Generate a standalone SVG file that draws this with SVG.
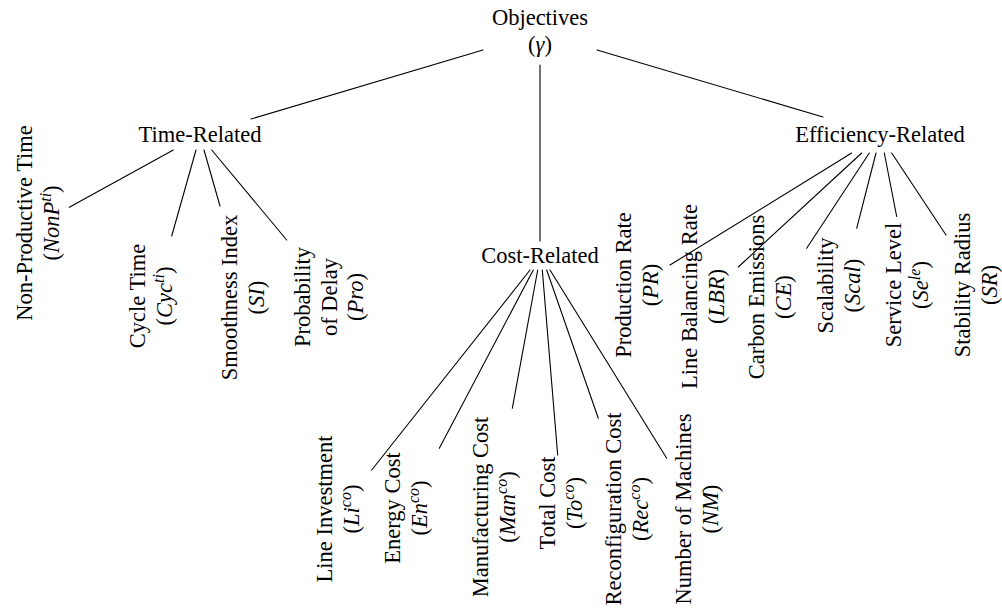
<svg xmlns="http://www.w3.org/2000/svg" width="1002" height="609" viewBox="0 0 1002 609">
<style>
text{font-family:"Liberation Serif","Times New Roman",serif;font-size:22.5px;fill:#000;text-anchor:middle}
.m{font-style:italic}
.s{font-size:16px;font-style:italic}
#connectors line{stroke:#000;stroke-width:1.1;stroke-linecap:round}
</style>
<rect width="1002" height="609" fill="#fff"/>
<g id="connectors">
<line x1="483" y1="50" x2="251" y2="119"/>
<line x1="540" y1="65" x2="540" y2="241"/>
<line x1="597" y1="50" x2="823" y2="117"/>
<line x1="173.3" y1="150" x2="69.3" y2="207.3"/>
<line x1="196" y1="150" x2="171.7" y2="236"/>
<line x1="204" y1="150" x2="220" y2="206"/>
<line x1="211.7" y1="150" x2="286.7" y2="240"/>
<line x1="530" y1="270" x2="371.7" y2="470"/>
<line x1="533.3" y1="270" x2="439.3" y2="448.3"/>
<line x1="537.7" y1="270" x2="512.3" y2="408.3"/>
<line x1="542.3" y1="270" x2="557.7" y2="455"/>
<line x1="546.7" y1="270" x2="598.3" y2="418.3"/>
<line x1="550" y1="270" x2="666.7" y2="458.3"/>
<line x1="851.7" y1="153" x2="670" y2="265"/>
<line x1="861.7" y1="153" x2="738.3" y2="267"/>
<line x1="869.3" y1="153" x2="806.7" y2="248.3"/>
<line x1="876" y1="153" x2="856.7" y2="228.3"/>
<line x1="884.3" y1="153" x2="896.7" y2="216.5"/>
<line x1="891.7" y1="153" x2="946" y2="235"/>
</g>
<g id="n-objectives"><text x="540" y="25">Objectives<tspan x="540" dy="27">(<tspan class="m">γ</tspan>)</tspan></text></g>
<g id="n-time"><text x="200" y="142">Time-Related</text></g>
<g id="n-cost"><text x="540" y="263">Cost-Related</text></g>
<g id="n-eff"><text x="880" y="142">Efficiency-Related</text></g>

<g id="n-nonp"><text transform="translate(32,223) rotate(-90)"><tspan x="0" y="0">Non-Productive Time</tspan><tspan x="0" dy="26.5">(<tspan class="m">NonP</tspan><tspan class="s" dy="-8">ti</tspan><tspan dy="8">)</tspan></tspan></text></g>
<g id="n-cyc"><text transform="translate(145,296) rotate(-90)"><tspan x="0" y="0">Cycle Time</tspan><tspan x="0" dy="26.5">(<tspan class="m">Cyc</tspan><tspan class="s" dy="-8">ti</tspan><tspan dy="8">)</tspan></tspan></text></g>
<g id="n-si"><text transform="translate(237,297.5) rotate(-90)"><tspan x="0" y="0">Smoothness Index</tspan><tspan x="0" dy="26.5">(<tspan class="m">SI</tspan>)</tspan></text></g>
<g id="n-pro"><text transform="translate(310,297) rotate(-90)"><tspan x="0" y="0">Probability</tspan><tspan x="0" dy="26.5">of Delay</tspan><tspan x="0" dy="26.5">(<tspan class="m">Pro</tspan>)</tspan></text></g>

<g id="n-li"><text transform="translate(332,509) rotate(-90)"><tspan x="0" y="0">Line Investment</tspan><tspan x="0" dy="26.5">(<tspan class="m">Li</tspan><tspan class="s" dy="-8">co</tspan><tspan dy="8">)</tspan></tspan></text></g>
<g id="n-en"><text transform="translate(400,508) rotate(-90)"><tspan x="0" y="0">Energy Cost</tspan><tspan x="0" dy="26.5">(<tspan class="m">En</tspan><tspan class="s" dy="-8">co</tspan><tspan dy="8">)</tspan></tspan></text></g>
<g id="n-man"><text transform="translate(488,507) rotate(-90)"><tspan x="0" y="0">Manufacturing Cost</tspan><tspan x="0" dy="26.5">(<tspan class="m">Man</tspan><tspan class="s" dy="-8">co</tspan><tspan dy="8">)</tspan></tspan></text></g>
<g id="n-to"><text transform="translate(555,503) rotate(-90)"><tspan x="0" y="0">Total Cost</tspan><tspan x="0" dy="26.5">(<tspan class="m">To</tspan><tspan class="s" dy="-8">co</tspan><tspan dy="8">)</tspan></tspan></text></g>
<g id="n-rec"><text transform="translate(621,509) rotate(-90)"><tspan x="0" y="0">Reconfiguration Cost</tspan><tspan x="0" dy="26.5">(<tspan class="m">Rec</tspan><tspan class="s" dy="-8">co</tspan><tspan dy="8">)</tspan></tspan></text></g>
<g id="n-nm"><text transform="translate(691,509) rotate(-90)"><tspan x="0" y="0">Number of Machines</tspan><tspan x="0" dy="26.5">(<tspan class="m">NM</tspan>)</tspan></text></g>

<g id="n-pr"><text transform="translate(631,285) rotate(-90)"><tspan x="0" y="0">Production Rate</tspan><tspan x="0" dy="26.5">(<tspan class="m">PR</tspan>)</tspan></text></g>
<g id="n-lbr"><text transform="translate(697,296.5) rotate(-90)"><tspan x="0" y="0">Line Balancing Rate</tspan><tspan x="0" dy="26.5">(<tspan class="m">LBR</tspan>)</tspan></text></g>
<g id="n-ce"><text transform="translate(764,297) rotate(-90)"><tspan x="0" y="0">Carbon Emissions</tspan><tspan x="0" dy="26.5">(<tspan class="m">CE</tspan>)</tspan></text></g>
<g id="n-scal"><text transform="translate(833,285.5) rotate(-90)"><tspan x="0" y="0">Scalability</tspan><tspan x="0" dy="26.5">(<tspan class="m">Scal</tspan>)</tspan></text></g>
<g id="n-sel"><text transform="translate(901,285) rotate(-90)"><tspan x="0" y="0">Service Level</tspan><tspan x="0" dy="26.5">(<tspan class="m">Se</tspan><tspan class="s" dy="-8">le</tspan><tspan dy="8">)</tspan></tspan></text></g>
<g id="n-sr"><text transform="translate(970,285) rotate(-90)"><tspan x="0" y="0">Stability Radius</tspan><tspan x="0" dy="26.5">(<tspan class="m">SR</tspan>)</tspan></text></g>
</svg>
